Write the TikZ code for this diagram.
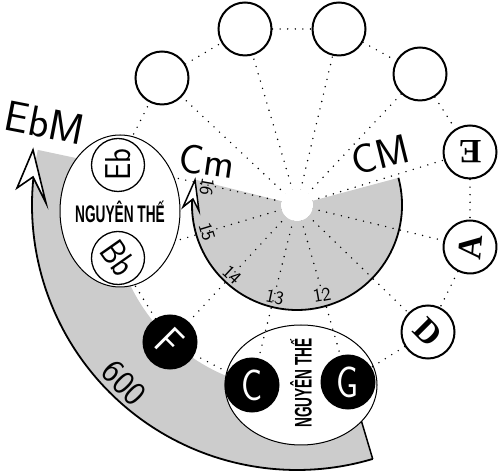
\documentclass[tikz,border=0pt]{standalone}
\usepackage{fontspec}
\usetikzlibrary{calc}
\newfontfamily\namefont{Liberation Sans}
\newfontfamily\boldletter{Liberation Serif}
\pgfdeclarelayer{bglo}
\pgfdeclarelayer{bgmid}
\pgfdeclarelayer{bghi}
\pgfsetlayers{bglo,bgmid,bghi,main}
\definecolor{bandgray}{gray}{0.8}
\tikzset{
  ring/.style={circle, draw, line width=2bp, minimum size=53bp, inner sep=0pt, fill=white},
  thinring/.style={ring, line width=1.3bp},
  darkring/.style={ring, fill=black, text=white},
  dotln/.style={line width=1.6bp, dash pattern=on 0bp off 7.6bp, line cap=round},
  hand/.style={font={\sffamily\fontsize{#1bp}{#1bp}\selectfont}},
  heavy/.style={font={\boldletter\bfseries\fontsize{#1bp}{#1bp}\selectfont}},
  namestyle/.style={font={\namefont\bfseries\fontsize{24bp}{24bp}\selectfont}, inner sep=0pt},
  ellfill/.style={fill=white, draw, line width=1bp},
  tiphead/.style={fill=white, draw, line width=1.6bp, line join=miter}
}
\begin{document}
\begin{tikzpicture}[x=1bp,y=1bp]
\useasboundingbox (0,0) rectangle (502,475);
\coordinate (O) at (297,270);
% circles
\node[ring] (n1) at (162,397) {};
\node[ring] (n2) at (245,446) {};
\node[ring] (n3) at (339,446) {};
\node[ring] (n4) at (420,401) {};
\node[ring, heavy=34, rotate=180] (E) at (470,323) {E};
\node[ring, heavy=34, rotate=85] (A) at (470,228) {A};
\node[ring, heavy=34, rotate=-45] (D) at (428,143) {D};
\node[darkring, hand=44] (G) at (348,93) {\scalebox{0.8}[1]{G}};
\node[darkring, hand=44] (C) at (252,90) {\scalebox{0.8}[1]{C}};
\node[darkring, hand=42, rotate=-45] (F) at (170,133) {\scalebox{0.85}[1]{F}};
\node[thinring, hand=36, rotate=-55] (Bb) at (118,217) {\scalebox{0.85}[1]{Bb}};
\node[thinring, hand=36, rotate=90] (Eb) at (118,310) {\scalebox{0.85}[1]{Eb}};
% labels
\node[hand=43, rotate=-11] (lEbM) at (45,352) {EbM};
\node[hand=41, rotate=-8] (lCm) at (207,314) {Cm};
\node[hand=41, rotate=14] (lCM) at (380,320) {CM};
\node[hand=19, rotate=10] (l12) at (322,180) {12};
\node[hand=19, rotate=-12] (l13) at (275,178) {13};
\node[hand=19, rotate=-43] (l14) at (232,200) {14};
\node[hand=19, rotate=-73] (l15) at (207,243) {15};
\node[hand=19, rotate=-100] (l16) at (207,288) {16};
\node[hand=34, rotate=-45] (l600) at (124,92) {600};
\node[namestyle, rotate=90] (name2) at (301,92) {\scalebox{0.57}[1]{NGUYÊN THẾ}};
\begin{pgfonlayer}{bglo}
  \fill[bandgray] ($(O)+(168:265)$) arc[start angle=168, end angle=286.6, radius=265]
     -- ($(O)+(286.6:185)$) arc[start angle=286.6, end angle=168, radius=185] -- cycle;
  \fill[bandgray] (O) -- ($(O)+(166:105)$) arc[start angle=166, end angle=375, radius=105] -- cycle;
  \draw[line width=1.8bp] ($(O)+(286.6:265)$) arc[start angle=286.6, end angle=174, radius=265];
  \draw[tiphead] (33,325) -- (17,287) -- (33,298) -- (46,272) -- cycle;
  \draw[line width=1.5bp] ($(O)+(286.6:185)$) -- ($(O)+(286.6:265)$);
  \draw[line width=1.8bp] ($(O)+(15:105)$) arc[start angle=15, end angle=-189, radius=105];
  \draw[tiphead, line width=1.5bp] (195,295) -- (183,268) -- (193,276) -- (199,264) -- cycle;
  \draw[ellfill] (301,90) ellipse[x radius=76, y radius=60];
\end{pgfonlayer}
\begin{pgfonlayer}{bgmid}
  \foreach \n in {n1,n2,n3,n4,E,A,D,G,C,F,Bb,Eb} \draw[dotln] (O) -- (\n);
  \fill[white] (O) circle[radius=16];
  \draw[dotln] (n1) -- (n2);
  \draw[dotln] (n2) -- (n3);
  \draw[dotln] (n3) -- (n4);
  \draw[dotln] (n4) -- (E);
  \draw[dotln] (E) -- (A);
  \draw[dotln] (A) -- (D);
  \draw[dotln] (D) -- (G);
  \draw[dotln] (C) -- (F);
  \draw[dotln] (F) -- (Bb);
  \draw[dotln] (Eb) -- (n1);
\end{pgfonlayer}
\begin{pgfonlayer}{bghi}
  \draw[ellfill] (120,264) ellipse[x radius=60, y radius=76];
  \node[namestyle] (name1) at (120,263) {\scalebox{0.57}[1]{NGUYÊN THẾ}};
\end{pgfonlayer}
\end{tikzpicture}
\end{document}
